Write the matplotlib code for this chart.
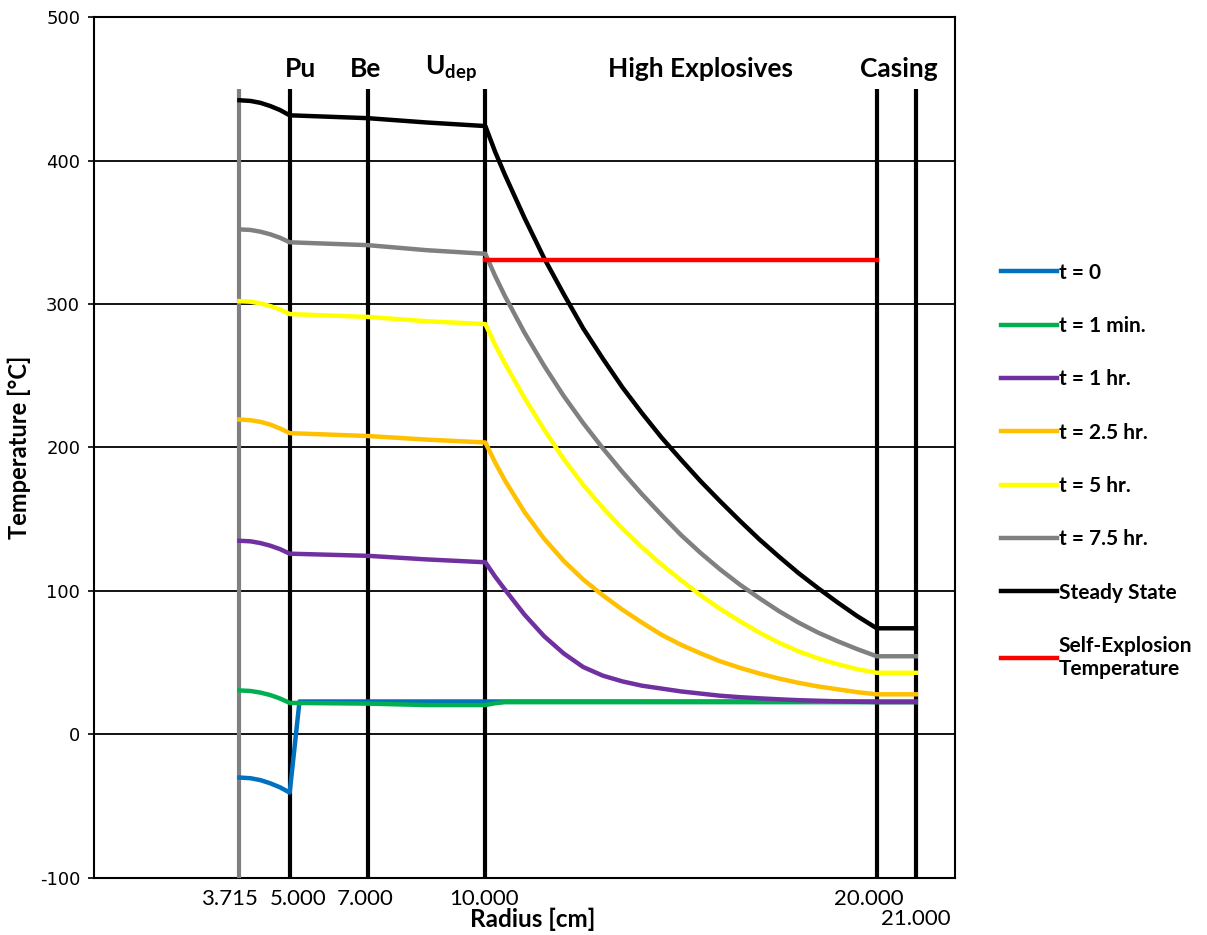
import matplotlib
matplotlib.use("Agg")
import matplotlib.pyplot as plt
from matplotlib.transforms import ScaledTranslation

plt.rcParams['font.family'] = ['Lato', 'DejaVu Sans']
plt.rcParams['mathtext.fontset'] = 'custom'
plt.rcParams['mathtext.bf'] = 'Lato:bold'
plt.rcParams['mathtext.rm'] = 'Lato'
plt.rcParams['axes.unicode_minus'] = False

# radius grid [cm] shared by most series
radius = [3.715, 4.0, 4.25, 4.5, 4.75, 5.0, 7.0, 8.5,
          10.0, 10.25, 10.5, 11.0, 11.5, 12.0, 12.5, 13.0, 13.5, 14.0, 14.5,
          15.0, 15.5, 16.0, 16.5, 17.0, 17.5, 18.0, 18.5, 19.0, 19.5, 20.0, 21.0]

radius_t0 = [3.715, 4.0, 4.25, 4.5, 4.75, 5.0, 5.25, 21.0]
temp_t0 = [-30, -30.5, -31.8, -34.0, -36.8, -40.5, 23, 23]

temp_1min = [30.7, 30.3, 29.2, 27.5, 25.1, 22, 21.5, 20.5,
             20.5, 21.8, 22.5, 22.5, 22.5, 22.5, 22.5, 22.5, 22.5, 22.5, 22.5,
             22.5, 22.5, 22.5, 22.5, 22.5, 22.5, 22.5, 22.5, 22.5, 22.5, 22.5, 22.5]
temp_1hr = [135, 134.6, 133.4, 131.6, 129.2, 126, 124.5, 122,
            120, 110, 101, 83.5, 68.5, 56.5, 47, 41, 37, 34, 32,
            30, 28.5, 27, 26, 25.2, 24.5, 23.9, 23.5, 23.1, 22.8, 22.6, 22.6]
temp_25hr = [219.5, 219.0, 217.9, 216.0, 213.3, 210, 208, 205.5,
             203.5, 189.5, 177, 155, 136.5, 121, 108, 97, 87, 78, 69.5,
             62.5, 56.5, 51, 46.5, 42.5, 39, 36, 33.5, 31.5, 29.5, 28, 28]
temp_5hr = [302, 301.6, 300.4, 298.6, 296.2, 293, 291, 288,
            286, 271.5, 258.5, 234.5, 212.5, 192, 174, 158, 143.5, 130.5, 118.5,
            107.5, 97, 87.5, 79, 71, 64, 58, 53, 49, 45.5, 43, 43]
temp_75hr = [352, 351.6, 350.4, 348.6, 346.2, 343, 341, 337.5,
             335, 319.5, 305.5, 280, 257, 236, 217, 199.5, 183, 167.5, 153,
             139, 126.5, 115, 104.5, 95, 86, 78, 71, 65, 59.5, 54.5, 54.5]
temp_steady = [442, 441.5, 440.2, 438, 435.2, 431.5, 429.5, 426.5,
               424, 406, 390, 360, 332, 307, 283, 262, 242, 224, 207,
               191.5, 176.5, 162.5, 149, 136, 124, 112.5, 102, 92, 82.5, 74, 74]

radius_selfexp = [10.0, 20.0]
temp_selfexp = [331, 331]

boundaries = [3.715, 5.0, 7.0, 10.0, 20.0, 21.0]
boundary_labels = ['3.715', '5.000', '7.000', '10.000', '20.000', '21.000']
region_names = ['Pu', 'Be', r'U$_{\mathbf{dep}}$', 'High Explosives', 'Casing']
region_x = [5.28, 6.95, 9.13, 15.49, 20.56]

fig = plt.figure(figsize=(12.07, 9.35), dpi=100)
ax = fig.add_axes([0.0779, 0.0610, 0.7133, 0.9208])

# layer boundaries
ax.vlines(boundaries[0], -100, 450, color='#808080', lw=3, zorder=3)
ax.vlines(boundaries[1:], -100, 450, color='black', lw=3, zorder=3)

lw = 3.2
ax.plot(radius_t0, temp_t0, color='#0070C0', lw=lw, label='t = 0', zorder=4)
ax.plot(radius, temp_1min, color='#00B050', lw=lw, label='t = 1 min.', zorder=4)
ax.plot(radius, temp_1hr, color='#7030A0', lw=lw, label='t = 1 hr.', zorder=4)
ax.plot(radius, temp_25hr, color='#FFC000', lw=lw, label='t = 2.5 hr.', zorder=4)
ax.plot(radius, temp_5hr, color='#FFFF00', lw=lw, label='t = 5 hr.', zorder=4)
ax.plot(radius, temp_75hr, color='#808080', lw=lw, label='t = 7.5 hr.', zorder=4)
ax.plot(radius, temp_steady, color='black', lw=lw, label='Steady State', zorder=4)
ax.plot(radius_selfexp, temp_selfexp, color='#FF0000', lw=lw,
        label='Self-Explosion\nTemperature', zorder=4)

for name, xpos in zip(region_names, region_x):
    ax.text(xpos, 464, name, ha='center', va='center', fontsize=19, fontweight='bold')

ax.set_xlim(0, 22)
ax.set_ylim(-100, 500)
ax.set_xticks(boundaries)
ax.set_xticklabels(boundary_labels, fontsize=16)
ax.tick_params(axis='x', length=0, pad=8)
# nudge the crowded labels like the original (pixels: dx, dy)
nudges = [(-10, 0), (8.5, 0), (-3, 0), (-1, 0), (-8, 0), (0, -20)]
for lab, (dx, dy) in zip(ax.get_xticklabels(), nudges):
    lab.set_transform(lab.get_transform() + ScaledTranslation(dx / 100, dy / 100, fig.dpi_scale_trans))

ax.set_yticks(range(-100, 501, 100))
ax.tick_params(axis='y', length=4, width=1.2, direction='out', pad=6)
for lab in ax.get_yticklabels():
    lab.set_fontfamily('DejaVu Sans')
    lab.set_fontsize(13)
ax.yaxis.grid(True, color='black', lw=1.3, zorder=1)
ax.set_axisbelow(True)
for sp in ax.spines.values():
    sp.set_linewidth(1.5)

ax.set_xlabel('Radius [cm]', fontsize=17.5, fontweight='bold')
ax.xaxis.set_label_coords(0.51, -0.034)
ax.set_ylabel('Temperature [°C]', fontsize=17, fontweight='bold')
ax.yaxis.set_label_coords(-0.073, 0.5)

ax.legend(loc='upper left', bbox_to_anchor=(0.829, 0.719), bbox_transform=fig.transFigure,
          frameon=False, prop={'weight': 'bold', 'size': 15},
          handlelength=2.7, handletextpad=0.1, labelspacing=1.6,
          borderpad=0, borderaxespad=0)

fig.savefig('out.png', dpi=100)
